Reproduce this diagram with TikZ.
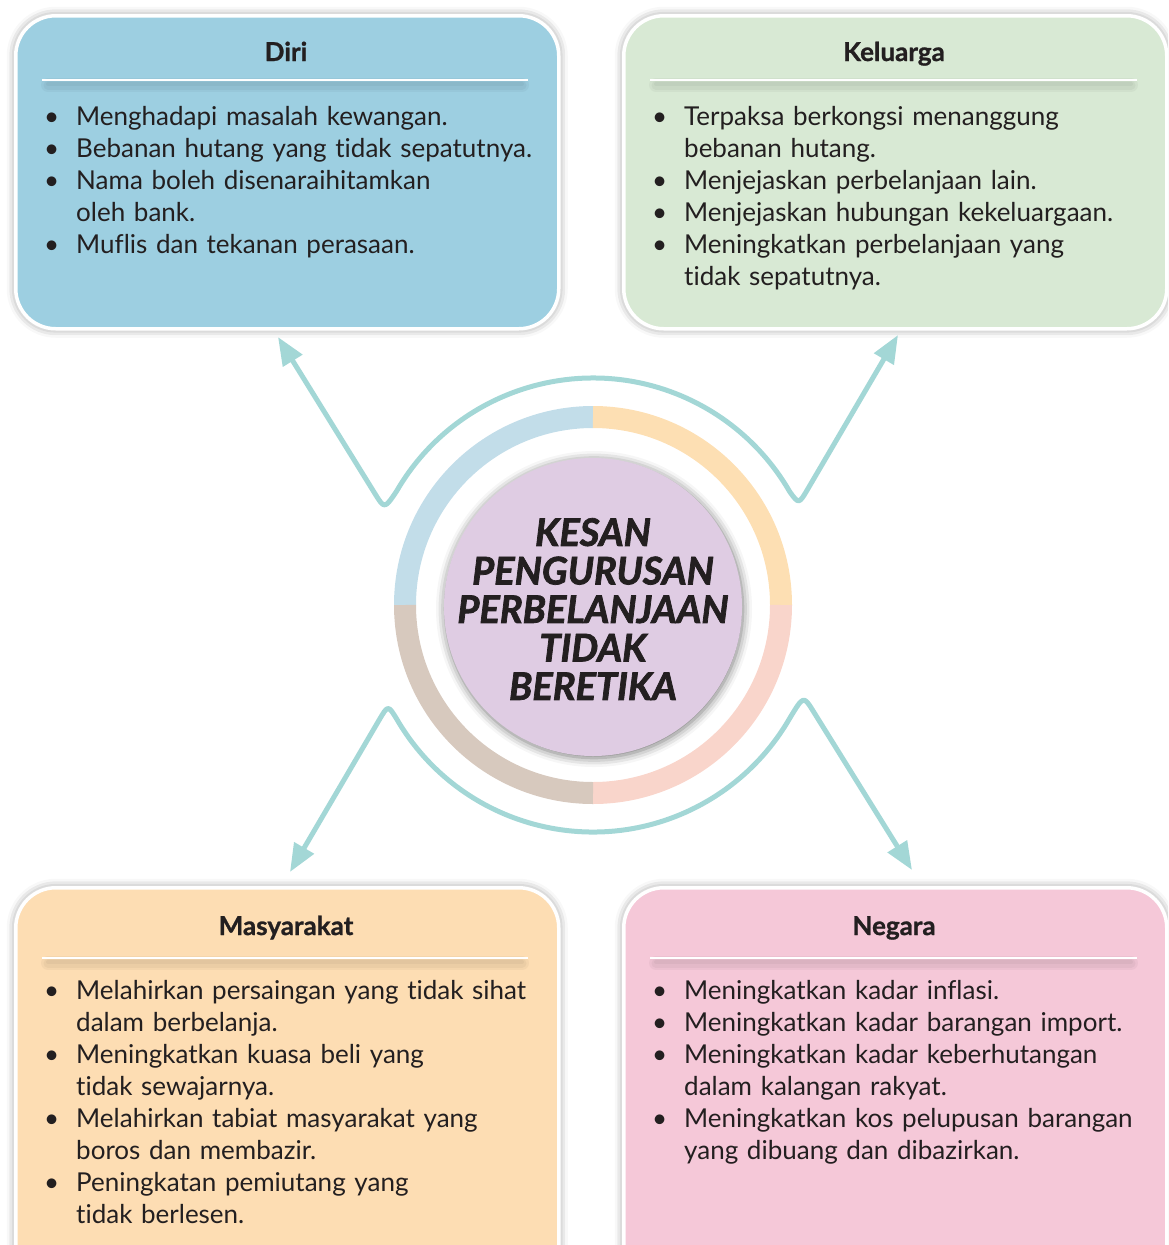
\documentclass[tikz,border=0pt]{standalone}
\usepackage{fontspec}
\setmainfont{Lato}[Ligatures=NoCommon]
\newfontfamily\brushfont{Lato}[FakeBold=2]
\newfontfamily\titlefont{Lato}[FakeBold=1]
\usetikzlibrary{arrows.meta,shadows.blur}
\definecolor{cdiri}{HTML}{9DCFE1}
\definecolor{ckel}{HTML}{D8E9D4}
\definecolor{cmas}{HTML}{FDDDB3}
\definecolor{cneg}{HTML}{F5C8D8}
\definecolor{rblue}{HTML}{C2DDE9}
\definecolor{rorange}{HTML}{FDDFB3}
\definecolor{rpink}{HTML}{F9D5CB}
\definecolor{rtan}{HTML}{D7C9BE}
\definecolor{cpurple}{HTML}{DFCCE3}
\definecolor{cteal}{HTML}{A3D7D6}
\definecolor{ctext}{HTML}{231F20}
\newcommand\bitem[1]{\par\noindent\hangindent=34pt\hangafter=1\makebox[34pt][l]{\hspace*{2pt}\textbullet}#1\par}
\begin{document}
\begin{tikzpicture}[x=1pt,y=-1pt,
  panel/.style={draw=white, line width=3.5pt, rounded corners=40pt, anchor=north west,
    minimum width=543pt, inner sep=0pt,
    blur shadow={shadow xshift=0pt, shadow yshift=0pt, shadow blur radius=9pt, shadow opacity=45}},
  paneltitle/.style={anchor=base, text=ctext, font=\titlefont\bfseries\fontsize{26}{30}\selectfont},
  sepline/.style={draw=white, line width=2.5pt},
  sepshade/.style={draw=black, opacity=0.035, line cap=round},
  bodytext/.style={anchor=base west, text width=500pt, align=left, inner sep=0pt, text=ctext,
    font=\fontsize{26}{32}\selectfont},
  wave/.style={draw=cteal, line width=5pt, line join=round,
    {Triangle[width=22pt,length=28pt]}-{Triangle[width=22pt,length=28pt]}},
  ringseg/.style={line width=22pt, line cap=butt}
]
\useasboundingbox (0,0) rectangle (1168,1245);
\clip (0,0) rectangle (1168,1245);

% panels
\node[panel, fill=cdiri, minimum height=313pt] (diri) at (14,14) {};
\node[panel, fill=ckel, minimum height=313pt] (kel) at (622,14) {};
\node[panel, fill=cmas, minimum height=420pt] (mas) at (14,886) {};
\node[panel, fill=cneg, minimum height=420pt] (neg) at (622,886) {};

% titles
\node[paneltitle] (diriT) at (286,61) {Diri};
\node[paneltitle] (kelT) at (894,61) {Keluarga};
\node[paneltitle] (masT) at (286,935) {Masyarakat};
\node[paneltitle] (negT) at (894,935) {Negara};

% separators (soft shadow below a white rule)
\foreach \ya/\xa/\xb in {80/42/528, 80/650/1137, 958/42/528, 958/650/1137}{
  \draw[sepshade, line width=14pt] (\xa+6,\ya+5) -- (\xb-6,\ya+5);
  \draw[sepshade, line width=9pt] (\xa+6,\ya+5) -- (\xb-6,\ya+5);
  \draw[sepshade, line width=4pt] (\xa+6,\ya+4) -- (\xb-6,\ya+4);
  \draw[sepline] (\xa,\ya) -- (\xb,\ya);
}

% body texts
\node[bodytext] (diriB) at (42,93) {%
\bitem{Menghadapi masalah kewangan.}
\bitem{Bebanan hutang yang tidak sepatutnya.}
\bitem{Nama boleh disenaraihitamkan\newline oleh bank.}
\bitem{Muflis dan tekanan perasaan.}};

\node[bodytext] (kelB) at (650,93) {%
\bitem{Terpaksa berkongsi menanggung\newline bebanan hutang.}
\bitem{Menjejaskan perbelanjaan lain.}
\bitem{Menjejaskan hubungan kekeluargaan.}
\bitem{Meningkatkan perbelanjaan yang\newline tidak sepatutnya.}};

\node[bodytext] (masB) at (42,967) {%
\bitem{Melahirkan persaingan yang tidak sihat\newline dalam berbelanja.}
\bitem{Meningkatkan kuasa beli yang\newline tidak sewajarnya.}
\bitem{Melahirkan tabiat masyarakat yang\newline boros dan membazir.}
\bitem{Peningkatan pemiutang yang\newline tidak berlesen.}};

\node[bodytext] (negB) at (650,967) {%
\bitem{Meningkatkan kadar inflasi.}
\bitem{Meningkatkan kadar barangan import.}
\bitem{Meningkatkan kadar keberhutangan\newline dalam kalangan rakyat.}
\bitem{Meningkatkan kos pelupusan barangan\newline yang dibuang dan dibazirkan.}};

% coloured ring
\coordinate (O) at (593,605);
\draw[ringseg, draw=rblue] (O) ++(-180:188) arc[start angle=-180, end angle=-90, radius=188];
\draw[ringseg, draw=rorange] (O) ++(-90:188) arc[start angle=-90, end angle=0, radius=188];
\draw[ringseg, draw=rpink] (O) ++(0:188) arc[start angle=0, end angle=90, radius=188];
\draw[ringseg, draw=rtan] (O) ++(90:188) arc[start angle=90, end angle=180, radius=188];

% centre disc
\node[circle, fill=cpurple, minimum size=298pt, inner sep=0pt,
  blur shadow={shadow xshift=1pt, shadow yshift=-2pt, shadow blur radius=9pt, shadow opacity=55}] (centre) at (593,607) {};
\node[align=center, text=ctext, inner sep=0pt,
  font=\brushfont\bfseries\itshape\fontsize{38}{38.5}\selectfont] (centreT) at (593,609)
  {KESAN\\PENGURUSAN\\PERBELANJAAN\\TIDAK\\BERETIKA};

% wave connectors
\coordinate (tipTL) at (278,337);
\coordinate (tipTR) at (898,335);
\coordinate (tipBL) at (290,872);
\coordinate (tipBR) at (912,870);
\draw[wave] (tipTL) -- (375,493.7) .. controls (384.5,509) .. (396.4,491.5)
  arc[start angle=-150, end angle=-30, radius=227]
  .. controls (798.8,504.3) .. (807.9,488.8) -- (tipTR);
\draw[wave] (tipBL) -- (378.9,720.4) .. controls (388,704.9) .. (396.4,718.5)
  arc[start angle=150, end angle=30, radius=227]
  .. controls (803.5,695.5) .. (813,710.8) -- (tipBR);
\end{tikzpicture}
\end{document}
